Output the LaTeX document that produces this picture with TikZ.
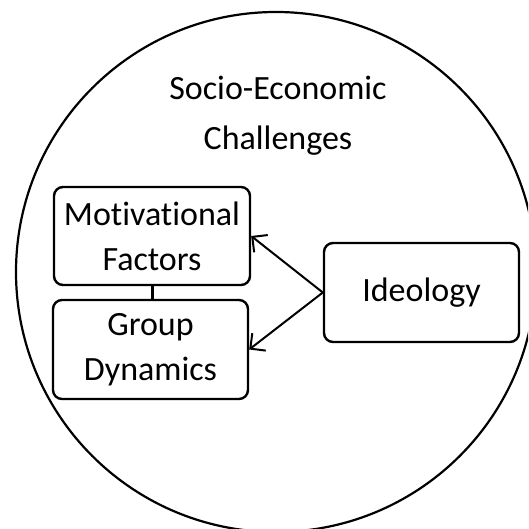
\documentclass[tikz,border=0pt]{standalone}
\usepackage{fontspec}
\setmainfont{Carlito}[Ligatures={NoCommon}]
\usetikzlibrary{arrows.meta}
\begin{document}
\begin{tikzpicture}[x=1pt,y=-1pt,
  txt/.style={font=\fontsize{34}{45}\selectfont, align=center, inner sep=0pt},
  boxnode/.style={draw, line width=2.4pt, rounded corners=9pt, txt},
  link/.style={line width=2pt, -{Straight Barb[length=11pt,width=22pt,line width=2pt]}}]
\useasboundingbox (0,0) rectangle (528,529);
\begin{scope}
\clip (0,0) rectangle (528,529);
\draw[line width=2.2pt] (276,272) circle[radius=260];
\end{scope}
\node[txt, font=\fontsize{34}{50}\selectfont] (title) at (278,116) {Socio-Economic\\Challenges};
\node[boxnode, minimum width=196pt, minimum height=98pt] (mot) at (152,236) {Motivational\\Factors};
\node[boxnode, minimum width=195pt, minimum height=99pt] (grp) at (150.5,349.5) {Group\\Dynamics};
\node[boxnode, minimum width=195pt, minimum height=99pt] (ideo) at (421.5,292.5) {Ideology};
\draw[line width=3pt] (mot.south -| 152,0) -- (grp.north -| 152,0);
\draw[link] (ideo.west) -- (mot.east);
\draw[link] (ideo.west) -- (grp.east);
\end{tikzpicture}
\end{document}
